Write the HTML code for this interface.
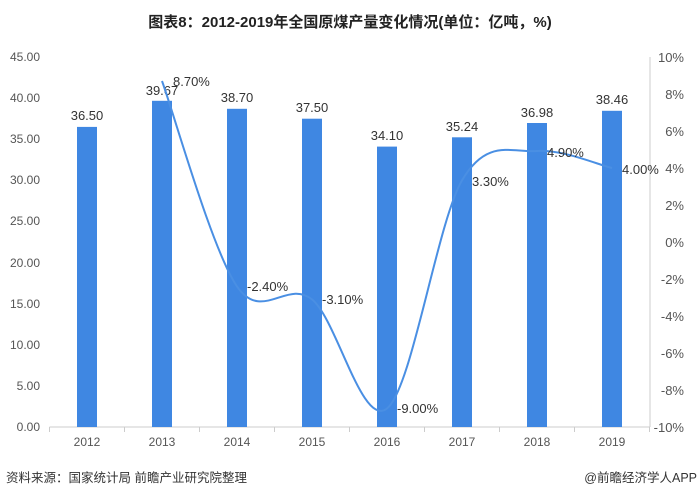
<!DOCTYPE html>
<html><head><meta charset="utf-8"><style>
body{margin:0;background:#fff;}
svg text{font-family:"Liberation Sans","Noto Sans CJK SC",sans-serif;}
</style></head><body>
<svg width="700" height="498" xmlns="http://www.w3.org/2000/svg">
<rect width="700" height="498" fill="#fff"/>
<text x="350" y="27" text-anchor="middle" font-size="15" font-weight="bold" fill="#222">图表8：2012-2019年全国原煤产量变化情况(单位：亿吨，%)</text>
<g font-size="12" fill="#555" text-anchor="end">
<text x="40" y="61">45.00</text><text x="40" y="102">40.00</text><text x="40" y="143">35.00</text>
<text x="40" y="184">30.00</text><text x="40" y="225">25.00</text><text x="40" y="267">20.00</text>
<text x="40" y="308">15.00</text><text x="40" y="349">10.00</text><text x="40" y="390">5.00</text>
<text x="40" y="431">0.00</text>
</g>
<g font-size="13" fill="#555" text-anchor="end">
<text x="684" y="62">10%</text><text x="684" y="99">8%</text><text x="684" y="136">6%</text>
<text x="684" y="173">4%</text><text x="684" y="210">2%</text><text x="684" y="247">0%</text>
<text x="684" y="284">-2%</text><text x="684" y="321">-4%</text><text x="684" y="358">-6%</text>
<text x="684" y="395">-8%</text><text x="684" y="432">-10%</text>
</g>
<line x1="49.5" y1="427" x2="650" y2="427" stroke="#ccc"/>
<line x1="650" y1="57" x2="650" y2="427" stroke="#ccc"/>
<g stroke="#ccc"><line x1="49.5" y1="427" x2="49.5" y2="432"/><line x1="124.5" y1="427" x2="124.5" y2="432"/><line x1="199.5" y1="427" x2="199.5" y2="432"/><line x1="274.5" y1="427" x2="274.5" y2="432"/><line x1="349.5" y1="427" x2="349.5" y2="432"/><line x1="424.5" y1="427" x2="424.5" y2="432"/><line x1="499.5" y1="427" x2="499.5" y2="432"/><line x1="574.5" y1="427" x2="574.5" y2="432"/><line x1="649.5" y1="427" x2="649.5" y2="432"/></g>
<g fill="#3f87e2">
<rect x="77" y="126.9" width="20" height="300.1"/>
<rect x="152" y="100.8" width="20" height="326.2"/>
<rect x="227" y="108.8" width="20" height="318.2"/>
<rect x="302" y="118.7" width="20" height="308.3"/>
<rect x="377" y="146.6" width="20" height="280.4"/>
<rect x="452" y="137.3" width="20" height="289.7"/>
<rect x="527" y="123.0" width="20" height="304"/>
<rect x="602" y="110.8" width="20" height="316.2"/>
</g>
<g font-size="13" fill="#333" text-anchor="middle">
<text x="87" y="120">36.50</text><text x="162" y="95">39.67</text><text x="237" y="102">38.70</text>
<text x="312" y="112">37.50</text><text x="387" y="140">34.10</text><text x="462" y="131">35.24</text>
<text x="537" y="117">36.98</text><text x="612" y="104">38.46</text>
</g>
<path d="M162,81 C174.5,115.2 212,250 237,286.4 C262,322.8 287,279 312,299.4 C337,319.7 362,428.3 387,408.5 C412,388.7 437,223.3 462,180.4 C487,137.5 512,153.1 537,151 C562,148.9 599.5,165.2 612,168" fill="none" stroke="#4a8fe3" stroke-width="2"/>
<g font-size="13" fill="#333">
<text x="173" y="86">8.70%</text><text x="247" y="291">-2.40%</text><text x="322" y="304">-3.10%</text>
<text x="397" y="413">-9.00%</text><text x="472" y="186">3.30%</text><text x="547" y="157">4.90%</text>
<text x="622" y="174">4.00%</text>
</g>
<g font-size="12" fill="#555" text-anchor="middle">
<text x="87" y="446">2012</text><text x="162" y="446">2013</text><text x="237" y="446">2014</text>
<text x="312" y="446">2015</text><text x="387" y="446">2016</text><text x="462" y="446">2017</text>
<text x="537" y="446">2018</text><text x="612" y="446">2019</text>
</g>
<text x="6" y="482" font-size="12.5" fill="#333">资料来源：国家统计局 前瞻产业研究院整理</text>
<text x="697" y="482" font-size="12.5" fill="#333" text-anchor="end">@前瞻经济学人APP</text>
</svg>
</body></html>
